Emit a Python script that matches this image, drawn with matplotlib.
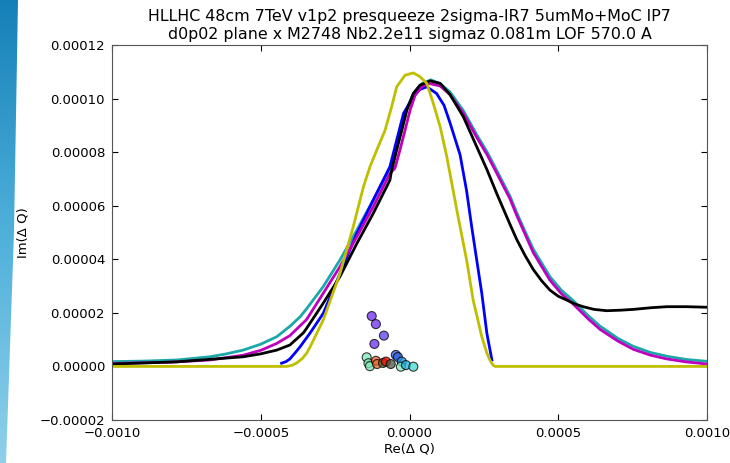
import matplotlib
matplotlib.use('Agg')
import matplotlib.pyplot as plt
import numpy as np
from matplotlib.patches import Polygon
from matplotlib.ticker import FuncFormatter

# curve samples, x in units of 1e-4, y in units of 1e-5
yel_x = [-10.0, -4.13, -3.95, -3.79, -3.60, -3.46, -3.34, -2.90, -2.34, -1.89,
         -1.55, -1.33, -1.10, -0.82, -0.60, -0.43, -0.15, 0.13, 0.35, 0.58,
         0.80, 1.03, 1.25, 1.59, 1.92, 2.14, 2.43, 2.60, 2.71, 2.80, 2.87, 10.0]
yel_y = [0.0, 0.0, 0.04, 0.13, 0.30, 0.49, 0.73, 1.73, 3.46, 5.22,
         6.70, 7.45, 8.08, 8.82, 9.70, 10.44, 10.87, 10.96, 10.82, 10.57,
         9.82, 8.95, 7.85, 5.84, 3.97, 2.48, 1.11, 0.50, 0.22, 0.06, 0.0, 0.0]

blu_x = [-4.30, -4.15, -4.02, -3.85, -3.68, -3.34, -2.90, -2.34, -1.77, -1.22,
         -0.66, -0.20, 0.13, 0.35, 0.58, 0.91, 1.16, 1.36, 1.70, 1.92, 2.09,
         2.26, 2.43, 2.60, 2.77]
blu_y = [0.12, 0.18, 0.28, 0.50, 0.73, 1.25, 1.98, 3.46, 4.97, 6.21,
         7.45, 9.45, 10.07, 10.34, 10.44, 10.19, 9.75, 9.10, 7.90, 6.55, 5.22,
         3.97, 2.73, 1.24, 0.24]

cya_x = [-10.0, -8.9, -7.83, -6.71, -6.15, -5.59, -5.0, -4.46, -4.02, -3.68,
         -3.46, -2.90, -2.34, -1.77, -1.22, -0.66, -0.45, -0.26, -0.09, 0.13,
         0.41, 0.72, 1.03, 1.36, 1.81, 2.26, 2.61, 2.87, 3.38, 3.60, 3.88,
         4.16, 4.72, 5.1, 5.51, 6.0, 6.41, 7.0, 7.52, 8.1, 8.65, 9.3, 10.0]
cya_y = [0.18, 0.20, 0.24, 0.36, 0.47, 0.61, 0.83, 1.11, 1.50, 1.85,
         2.15, 2.98, 3.97, 5.09, 6.21, 7.40, 8.10, 8.85, 9.60, 10.20,
         10.55, 10.70, 10.55, 10.25, 9.55, 8.65, 8.00, 7.45, 6.35, 5.75, 5.05,
         4.38, 3.35, 2.85, 2.45, 1.90, 1.50, 1.05, 0.75, 0.52, 0.38, 0.26, 0.19]

mag_x = [-10.0, -8.0, -6.71, -5.59, -5.0, -4.46, -4.02, -3.46, -2.90, -2.34,
         -1.77, -1.22, -0.66, -0.49, -0.32, -0.15, 0.02, 0.19, 0.41, 0.63,
         1.03, 1.36, 1.81, 2.26, 2.61, 2.87, 3.38, 3.60, 3.88, 4.16, 4.72,
         5.1, 5.51, 6.0, 6.41, 7.0, 7.52, 8.1, 8.65, 9.3, 10.0]
mag_y = [0.11, 0.16, 0.24, 0.42, 0.60, 0.86, 1.15, 1.75, 2.73, 3.72,
         4.84, 5.96, 7.20, 7.40, 8.08, 8.82, 9.57, 10.13, 10.44, 10.57,
         10.47, 10.15, 9.45, 8.55, 7.90, 7.35, 6.25, 5.65, 4.95, 4.25, 3.22,
         2.72, 2.32, 1.78, 1.38, 0.95, 0.64, 0.42, 0.28, 0.17, 0.09]

blk_x = [-10.0, -7.83, -5.59, -5.0, -4.46, -4.02, -3.57, -3.46, -2.90, -2.34,
         -1.77, -1.22, -0.66, -0.60, -0.43, -0.26, -0.09, 0.13, 0.35, 0.69,
         1.03, 1.36, 1.81, 2.26, 2.61, 2.93, 3.38, 3.60, 3.88, 4.16, 4.44,
         4.72, 5.0, 5.28, 5.56, 5.84, 6.2, 6.63, 7.1, 7.53, 8.1, 8.65, 9.32,
         10.0]
blk_y = [0.09, 0.17, 0.36, 0.47, 0.61, 0.80, 1.25, 1.42, 2.36, 3.35,
         4.59, 5.71, 6.95, 7.33, 8.08, 8.82, 9.57, 10.19, 10.50, 10.66,
         10.57, 10.15, 9.32, 8.20, 7.33, 6.46, 5.30, 4.75, 4.15, 3.62, 3.20,
         2.85, 2.62, 2.48, 2.33, 2.23, 2.13, 2.08, 2.10, 2.13, 2.19, 2.23, 2.23,
         2.21]

# scatter points, same units
pts_x = [-1.27, -1.13, -0.86, -1.18, -1.44, -1.38, -1.33, -1.13, -1.09, -0.89,
         -0.79, -0.63, -0.46, -0.39, -0.26, -0.29, -0.12, 0.13]
pts_y = [1.88, 1.58, 1.15, 0.84, 0.34, 0.12, 0.01, 0.21, 0.09, 0.13,
         0.18, 0.09, 0.43, 0.35, 0.18, -0.01, 0.05, -0.01]
pts_c = ['#6a2cf0', '#6a2cf0', '#5a3cf0', '#6a2cf0', '#7ee8b8', '#7ee8b8',
         '#7ee8b8', '#f05a28', '#e06a30', '#556b2f', '#ff0000', '#4a5a40',
         '#3050e0', '#3060e0', '#2090e0', '#7ee8b8', '#20b0e0', '#40d8d0']

title = ('HLLHC 48cm 7TeV v1p2 presqueeze 2sigma-IR7 5umMo+MoC IP7\n'
         'd0p02 plane x M2748 Nb2.2e11 sigmaz 0.081m LOF 570.0 A')


def fmt(ndec):
    return FuncFormatter(
        lambda v, p: ('%.*f' % (ndec, v)).replace('-', '\u2212'))


def main():
    fig = plt.figure(figsize=[7.3, 4.63], dpi=100)

    # decorative slide stripe on the left edge
    bg = fig.add_axes([0, 0, 1, 1], zorder=-5)
    bg.set_axis_off()
    bg.set_xlim(0, 1)
    bg.set_ylim(0, 1)
    grad = np.linspace(0, 1, 256).reshape(-1, 1)
    cmap = matplotlib.colors.LinearSegmentedColormap.from_list(
        'stripe', ['#1580b8', '#4fb0da', '#8fd0ea'])
    im = bg.imshow(grad, extent=[0, 1, 0, 1], origin='upper', cmap=cmap,
                   aspect='auto')
    stripe = Polygon([[0, 1], [18 / 730, 1], [14 / 730, 0.5], [6 / 730, 0],
                      [0, 0]], closed=True, transform=bg.transAxes,
                     facecolor='none', edgecolor='none')
    bg.add_patch(stripe)
    im.set_clip_path(stripe)

    ax = fig.add_axes([112 / 730, 43 / 463, 595 / 730, 375 / 463])
    sx, sy = 1e-4, 1e-5
    lw = 2.0
    ax.plot(np.array(cya_x) * sx, np.array(cya_y) * sy, color='#1aa8a8', lw=lw)
    ax.plot(np.array(blu_x) * sx, np.array(blu_y) * sy, color='b', lw=lw)
    ax.plot(np.array(mag_x) * sx, np.array(mag_y) * sy, color='m', lw=lw)
    ax.plot(np.array(blk_x) * sx, np.array(blk_y) * sy, color='k', lw=lw)
    ax.plot(np.array(yel_x) * sx, np.array(yel_y) * sy, color='y', lw=lw)
    ax.scatter(np.array(pts_x) * sx, np.array(pts_y) * sy, c=pts_c, s=42,
               alpha=0.75, edgecolors='k', linewidths=0.8, zorder=5)

    ax.set_xlim(-0.001, 0.001)
    ax.set_ylim(-0.00002, 0.00012)
    ax.set_xticks(np.linspace(-0.001, 0.001, 5))
    ax.set_yticks(np.linspace(-0.00002, 0.00012, 8))
    ax.xaxis.set_major_formatter(fmt(4))
    ax.yaxis.set_major_formatter(fmt(5))
    ax.tick_params(direction='in', top=True, right=True, length=4,
                   labelsize=9.5, pad=5)
    for sp in ax.spines.values():
        sp.set_color('#555555')
    ax.set_xlabel('Re(Δ Q)', fontsize=9.5, labelpad=2)
    ax.set_ylabel('Im(Δ Q)', fontsize=9.5, labelpad=7)
    ax.set_title(title, fontsize=11.4, pad=4, linespacing=1.3)

    fig.savefig('out.png', dpi=100)


if __name__ == '__main__':
    main()
